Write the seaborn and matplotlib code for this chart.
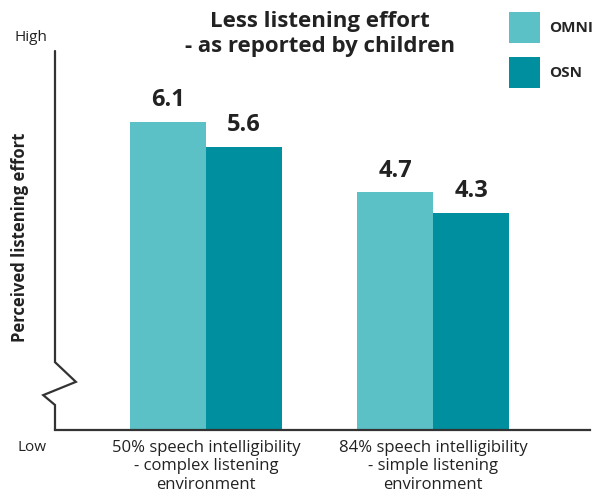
import matplotlib.pyplot as plt
import pandas as pd
import seaborn as sns

sns.set_style("white")
plt.rcParams["font.family"] = ["Open Sans", "DejaVu Sans"]

conditions = [
    "50% speech intelligibility\n- complex listening\nenvironment",
    "84% speech intelligibility\n- simple listening\nenvironment",
]
omni = [6.1, 4.7]
osn = [5.6, 4.3]
series = ["OMNI", "OSN"]
colors = ["#5bc1c7", "#008f9f"]

df = pd.DataFrame(
    {
        "condition": conditions * 2,
        "effort": omni + osn,
        "system": ["OMNI"] * 2 + ["OSN"] * 2,
    }
)

fig = plt.figure(figsize=(5.95, 4.96), dpi=100)
ax = fig.add_axes([55 / 595, 66 / 496, 535 / 595, 379 / 496])

sns.barplot(
    data=df,
    x="condition",
    y="effort",
    hue="system",
    hue_order=series,
    palette=colors,
    width=0.667,
    saturation=1,
    linewidth=0,
    ax=ax,
)

ax.set_ylim(0, 7.5)
ax.set_xlim(-0.665, 1.69)
ax.set_yticks([])
ax.set_xlabel("")
ax.set_ylabel("")
ax.tick_params(axis="x", length=0, labelsize=12, pad=7, colors="#222222")
for lab in ax.get_xticklabels():
    lab.set_linespacing(1.2)

for cont in ax.containers:
    ax.bar_label(cont, fmt="%.1f", padding=7, fontsize=17, fontweight="bold", color="#222222")

for s in ["top", "right", "left"]:
    ax.spines[s].set_visible(False)
ax.spines["bottom"].set_color("#333333")
ax.spines["bottom"].set_linewidth(1.6)

# broken y axis drawn by hand
zx = [0, 0, 0.039, -0.022, 0, 0]
zy = [1, 0.179, 0.127, 0.092, 0.066, 0]
ax.plot(zx, zy, transform=ax.transAxes, color="#333333", lw=1.6, clip_on=False, solid_joinstyle="miter")

ax.text(-0.015, 1.035, "High", transform=ax.transAxes, ha="right", va="center", fontsize=11, color="#222222")
ax.text(-0.015, -0.045, "Low", transform=ax.transAxes, ha="right", va="center", fontsize=11, color="#222222")
fig.text(20 / 595, 1 - 237 / 496, "Perceived listening effort", rotation=90, ha="center", va="center",
         fontsize=12, fontweight="bold", color="#222222")

fig.text(320 / 595, 1 - 34 / 496, "Less listening effort\n- as reported by children", ha="center",
         va="center", fontsize=16, fontweight="bold", color="#222222", linespacing=1.25)

handles, labels = ax.get_legend_handles_labels()
ax.legend(
    handles,
    labels,
    loc="upper left",
    bbox_to_anchor=(509 / 595, 1 - 12 / 496),
    bbox_transform=fig.transFigure,
    frameon=False,
    borderpad=0,
    borderaxespad=0,
    handlelength=2.0,
    handleheight=2.7,
    labelspacing=0.95,
    handletextpad=0.6,
    prop={"weight": "bold", "size": 11},
)

fig.savefig("out.png", dpi=100)
